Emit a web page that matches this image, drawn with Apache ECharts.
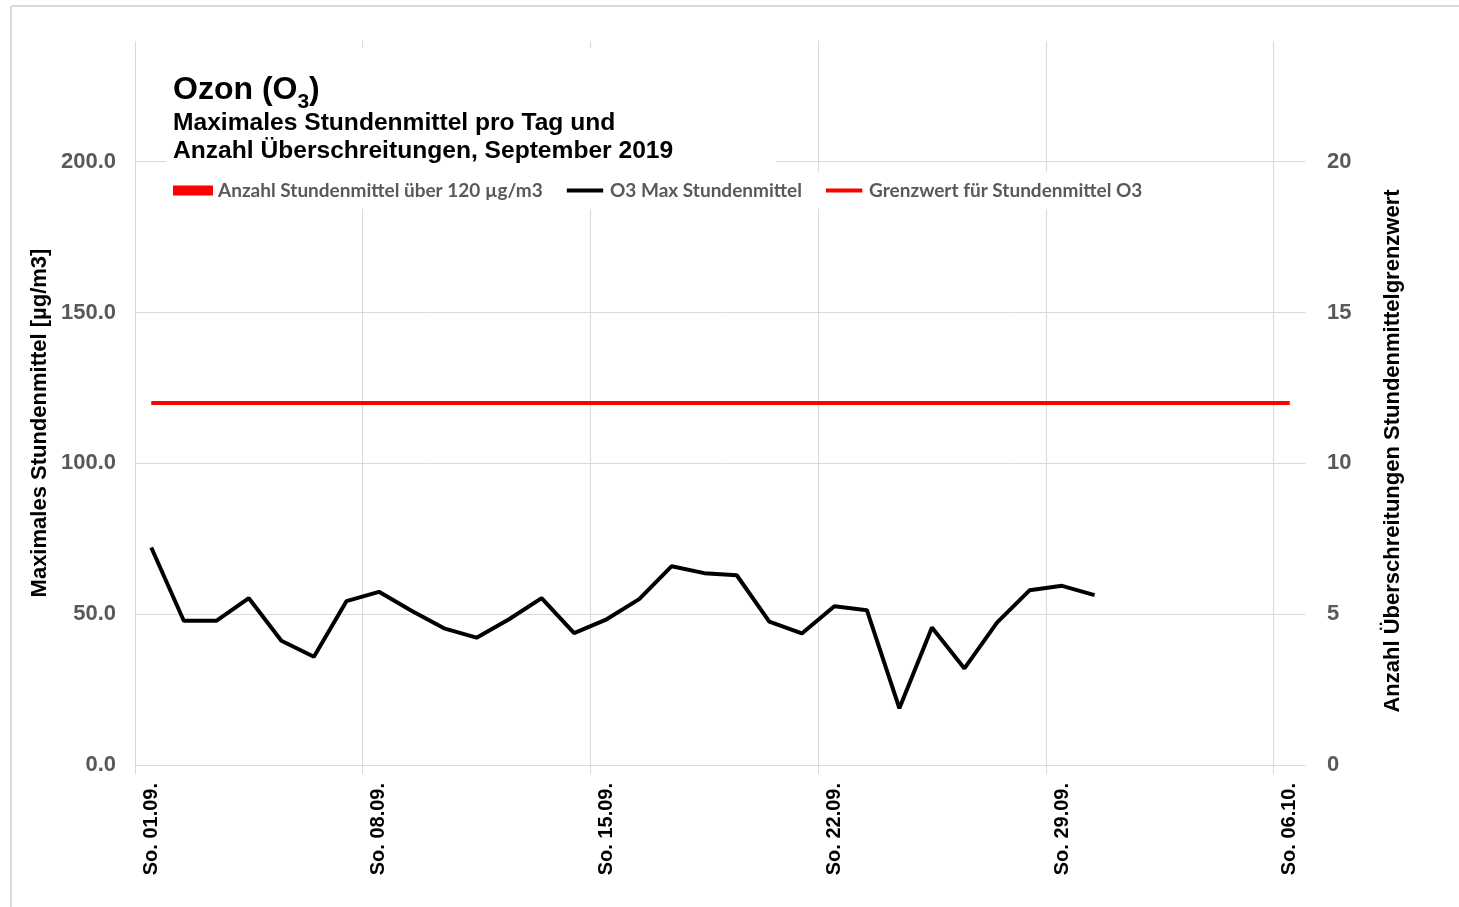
<!DOCTYPE html>
<html>
<head>
<meta charset="utf-8">
<script src="https://cdn.jsdelivr.net/npm/echarts@6/dist/echarts.min.js"></script>
<style>
  html, body { margin: 0; padding: 0; background: #fff; }
  #chart { width: 1459px; height: 907px; }
</style>
</head>
<body>
<div id="chart"></div>
<script>
// Tage (01.09. - 06.10.2019)
const days = [
  'So. 01.09.', 'Mo. 02.09.', 'Di. 03.09.', 'Mi. 04.09.', 'Do. 05.09.', 'Fr. 06.09.', 'Sa. 07.09.',
  'So. 08.09.', 'Mo. 09.09.', 'Di. 10.09.', 'Mi. 11.09.', 'Do. 12.09.', 'Fr. 13.09.', 'Sa. 14.09.',
  'So. 15.09.', 'Mo. 16.09.', 'Di. 17.09.', 'Mi. 18.09.', 'Do. 19.09.', 'Fr. 20.09.', 'Sa. 21.09.',
  'So. 22.09.', 'Mo. 23.09.', 'Di. 24.09.', 'Mi. 25.09.', 'Do. 26.09.', 'Fr. 27.09.', 'Sa. 28.09.',
  'So. 29.09.', 'Mo. 30.09.', 'Di. 01.10.', 'Mi. 02.10.', 'Do. 03.10.', 'Fr. 04.10.', 'Sa. 05.10.',
  'So. 06.10.'
];
// O3 max. Stundenmittel pro Tag (µg/m3)
const o3Max = [
  72.1, 47.8, 47.8, 55.3, 41.2, 35.9, 54.3,
  57.4, 51.1, 45.3, 42.2, 48.3, 55.3, 43.7,
  48.3, 55.0, 65.9, 63.6, 62.9, 47.5, 43.6,
  52.6, 51.3, 18.8, 45.6, 32.0, 47.2, 57.9,
  59.4, 56.3
];
// Anzahl Stundenmittel über 120 µg/m3
const exceedCount = [
  0, 0, 0, 0, 0, 0, 0, 0, 0, 0, 0, 0, 0, 0, 0,
  0, 0, 0, 0, 0, 0, 0, 0, 0, 0, 0, 0, 0, 0, 0
];
// Grenzwert
const limitValue = 120;
const limitLine = days.map(() => limitValue);

const leftTicks = [0, 50, 100, 150, 200];
const rightTicks = [0, 5, 10, 15, 20];

const chart = echarts.init(document.getElementById('chart'));
const AR = '"Liberation Sans", Arial, sans-serif';
const gridCol = '#d9d9d9';
// Linie als Legendensymbol
const lineIcon = 'path://M0,0h0.05v0.05h-0.05zM0,3.3h40v4.4h-40zM39.95,10.95h0.05v0.05h-0.05z';

const option = {
  backgroundColor: '#fff',
  animation: false,
  grid: { left: 135, right: 153, top: 41, bottom: 142 },
  legend: {
    left: 161,
    top: 172,
    padding: [9, 12, 9, 12],
    backgroundColor: '#fff',
    itemGap: 24,
    itemWidth: 40,
    itemHeight: 10,
    textStyle: { color: '#595959', fontFamily: 'Lato', fontWeight: 'bold', fontSize: 19 },
    data: [
      { name: 'Anzahl Stundenmittel über 120 µg/m3', icon: 'rect' },
      { name: 'O3 Max Stundenmittel', icon: lineIcon },
      { name: 'Grenzwert für Stundenmittel O3', icon: lineIcon }
    ]
  },
  xAxis: {
    type: 'category',
    data: days,
    boundaryGap: true,
    axisLine: { lineStyle: { color: gridCol, width: 1 } },
    axisTick: { show: true, interval: 6, length: 9, lineStyle: { color: gridCol } },
    splitLine: { show: true, interval: 6, lineStyle: { color: gridCol, width: 1 } },
    axisLabel: {
      interval: 6,
      rotate: 90,
      margin: 18,
      color: '#000',
      fontFamily: AR,
      fontWeight: 'bold',
      fontSize: 20
    }
  },
  yAxis: [
    {
      type: 'value',
      min: 0,
      max: 240,
      interval: 50,
      axisLine: { show: false },
      axisTick: { show: false },
      splitLine: { show: true, showMaxLine: false, lineStyle: { color: gridCol, width: 1 } },
      axisLabel: {
        margin: 19,
        color: '#595959',
        fontFamily: AR,
        fontWeight: 'bold',
        fontSize: 22,
        formatter: v => (leftTicks.indexOf(v) >= 0 ? v.toFixed(1) : '')
      }
    },
    {
      type: 'value',
      min: 0,
      max: 24,
      interval: 5,
      position: 'right',
      axisLine: { show: false },
      axisTick: { show: false },
      splitLine: { show: false },
      axisLabel: {
        margin: 21,
        color: '#595959',
        fontFamily: AR,
        fontWeight: 'bold',
        fontSize: 22,
        formatter: v => (rightTicks.indexOf(v) >= 0 ? String(v) : '')
      }
    }
  ],
  series: [
    {
      name: 'Anzahl Stundenmittel über 120 µg/m3',
      type: 'bar',
      yAxisIndex: 1,
      data: exceedCount,
      itemStyle: { color: '#ff0000' }
    },
    {
      name: 'O3 Max Stundenmittel',
      type: 'line',
      data: o3Max,
      symbol: 'none',
      lineStyle: { color: '#000', width: 4 },
      itemStyle: { color: '#000' },
      z: 5
    },
    {
      name: 'Grenzwert für Stundenmittel O3',
      type: 'line',
      data: limitLine,
      symbol: 'none',
      lineStyle: { color: '#ff0000', width: 4 },
      itemStyle: { color: '#ff0000' },
      z: 4
    }
  ],
  graphic: [
    // Rahmen
    { type: 'line', shape: { x1: 11, y1: 6, x2: 1459, y2: 6 }, style: { stroke: gridCol, lineWidth: 2 } },
    { type: 'line', shape: { x1: 11, y1: 6, x2: 11, y2: 907 }, style: { stroke: gridCol, lineWidth: 2 } },
    // rechter Rand der Zeichenflaeche ohne Gitterlinie
    { type: 'rect', shape: { x: 1305.6, y: 30, width: 3, height: 760 }, style: { fill: '#fff' }, z: 50 },
    // Titelbox
    { type: 'rect', shape: { x: 166, y: 48, width: 610, height: 124 }, style: { fill: '#fff' }, z: 50 },
    {
      type: 'text', x: 173, y: 74, z: 51,
      style: {
        text: '{a|Ozon (O}{s|3}{a|)}',
        rich: {
          a: { fontSize: 32, fontWeight: 'bold', fontFamily: AR, fill: '#000', lineHeight: 36, verticalAlign: 'top' },
          s: { fontSize: 21, fontWeight: 'bold', fontFamily: AR, fill: '#000', lineHeight: 20, padding: [18, 0, 0, 0], verticalAlign: 'top' }
        }
      }
    },
    {
      type: 'text', x: 173, y: 123, z: 51,
      style: { text: 'Maximales Stundenmittel pro Tag und', font: 'bold 24.6px ' + AR, fill: '#000', verticalAlign: 'middle' }
    },
    {
      type: 'text', x: 173, y: 151, z: 51,
      style: { text: 'Anzahl Überschreitungen, September 2019', font: 'bold 24.6px ' + AR, fill: '#000', verticalAlign: 'middle' }
    },
    // Achsentitel
    {
      type: 'text', x: 40, y: 423, rotation: Math.PI / 2,
      style: { text: 'Maximales Stundenmittel [µg/m3]', font: 'bold 22px ' + AR, fill: '#000', align: 'center', verticalAlign: 'middle' }
    },
    {
      type: 'text', x: 1393, y: 451, rotation: Math.PI / 2,
      style: { text: 'Anzahl Überschreitungen Stundenmittelgrenzwert', font: 'bold 22px ' + AR, fill: '#000', align: 'center', verticalAlign: 'middle' }
    }
  ]
};

chart.setOption(option);
</script>
</body>
</html>
